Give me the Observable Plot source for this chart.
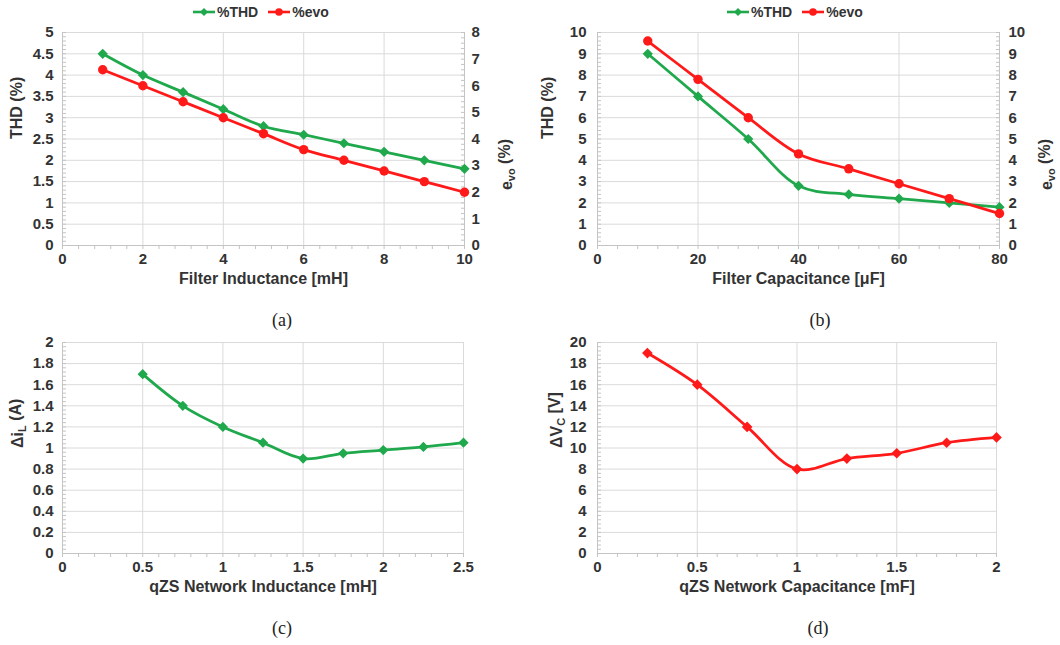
<!DOCTYPE html>
<html><head><meta charset="utf-8">
<script src="https://cdn.jsdelivr.net/npm/d3@7"></script>
<script src="https://cdn.jsdelivr.net/npm/@observablehq/plot@0.6"></script>
<style>
body{margin:0;background:#fff;}
#root{position:relative;width:1060px;height:645px;overflow:hidden;font-family:"Liberation Sans",Arial,sans-serif;}
.panel{position:absolute;}
.cap{position:absolute;font-family:"Liberation Serif","Times New Roman",serif;font-size:18px;color:#222;transform:translate(-50%,-50%);}
.legend{position:absolute;display:flex;align-items:center;gap:9px;font-weight:bold;font-size:14px;color:#333;transform:translateY(-50%);}
.legend .item{display:flex;align-items:center;gap:1px;}
</style></head><body><div id="root"></div>
<script>
// ---- data ----
const inductance = [1, 2, 3, 4, 5, 6, 7, 8, 9, 10];
const thdA = [4.5, 4.0, 3.6, 3.2, 2.8, 2.6, 2.4, 2.2, 2.0, 1.8];
const evoA = [6.6, 6.0, 5.4, 4.8, 4.2, 3.6, 3.2, 2.8, 2.4, 2.0];

const capacitance = [10, 20, 30, 40, 50, 60, 70, 80];
const thdB = [9, 7, 5, 2.8, 2.4, 2.2, 2.0, 1.8];
const evoB = [9.6, 7.8, 6.0, 4.3, 3.6, 2.9, 2.2, 1.5];

const qzsInductance = [0.5, 0.75, 1, 1.25, 1.5, 1.75, 2, 2.25, 2.5];
const deltaIL = [1.7, 1.4, 1.2, 1.05, 0.9, 0.95, 0.98, 1.01, 1.05];

const qzsCapacitance = [0.25, 0.5, 0.75, 1, 1.25, 1.5, 1.75, 2];
const deltaVC = [19, 16, 12, 8, 9, 9.5, 10.5, 11];

// tick labels
const xTicksA = [0, 2, 4, 6, 8, 10];
const yTicksA = [0, 0.5, 1, 1.5, 2, 2.5, 3, 3.5, 4, 4.5, 5];
const rightTicksA = [0, 1, 2, 3, 4, 5, 6, 7, 8];
const xTicksB = [0, 20, 40, 60, 80];
const yTicksB = [0, 1, 2, 3, 4, 5, 6, 7, 8, 9, 10];
const rightTicksB = [0, 1, 2, 3, 4, 5, 6, 7, 8, 9, 10];
const xTicksC = [0, 0.5, 1, 1.5, 2, 2.5];
const yTicksC = [0, 0.2, 0.4, 0.6, 0.8, 1, 1.2, 1.4, 1.6, 1.8, 2];
const xTicksD = [0, 0.5, 1, 1.5, 2];
const yTicksD = [0, 2, 4, 6, 8, 10, 12, 14, 16, 18, 20];

const GREEN = "#1fa84c", RED = "#ff1a1a";
const GRID = "#dadada", AXIS = "#c4c4c4", TXT = "#333333";
const fmt = d => String(+(+d).toFixed(3));

function minor(ticks, n) {
  const step = (ticks[1] - ticks[0]) / n;
  const out = [];
  for (let v = ticks[0]; v <= ticks[ticks.length - 1] + step * 1e-6; v += step) out.push(+v.toFixed(6));
  return out;
}

function subscripts(svg) {
  svg.querySelectorAll("text").forEach(t => {
    const s = t.textContent;
    if (!s.includes("_{")) return;
    const parts = s.split(/_\{([^}]*)\}/);
    t.textContent = "";
    parts.forEach((p, i) => {
      if (!p) return;
      const ts = document.createElementNS("http://www.w3.org/2000/svg", "tspan");
      ts.textContent = p;
      if (i % 2 === 1) { ts.setAttribute("dy", "0.3em"); ts.setAttribute("font-size", "11"); }
      else if (i > 0) { ts.setAttribute("dy", "-0.3em"); }
      t.appendChild(ts);
    });
  });
}

function panel(cfg) {
  const {left, top, width, height, m, xDomain, xTicks, yDomain, yTicks, series, xLabel, yLabel, yTitleDx, right} = cfg;
  const marks = [
    Plot.gridX(xTicks, {stroke: GRID, strokeOpacity: 1}),
    Plot.gridY(yTicks, {stroke: GRID, strokeOpacity: 1}),
    Plot.ruleX([xDomain[0]], {stroke: AXIS}),
    Plot.ruleY([yDomain[0]], {stroke: AXIS}),
    Plot.axisY(minor(yTicks, 5), {anchor: "left", tickSize: -4, fill: "none", stroke: AXIS}),
    Plot.axisX(minor(xTicks, 5), {anchor: "bottom", tickSize: 4, fill: "none", stroke: AXIS}),
    Plot.axisX(xTicks, {anchor: "bottom", tickSize: 0, tickPadding: 8, label: null, fill: TXT, tickFormat: fmt}),
    Plot.axisY(yTicks, {anchor: "left", tickSize: 0, tickPadding: cfg.leftPad, label: null, fill: TXT, tickFormat: fmt}),
    Plot.text([xLabel], {text: d => d, frameAnchor: "bottom", dy: 38, fontSize: 16, fill: TXT}),
    Plot.text([yLabel], {text: d => d, frameAnchor: "left", dx: yTitleDx, rotate: -90, fontSize: 16, fill: TXT})
  ];
  if (right) {
    const k = right.k;
    const rt = right.ticks.map(v => v * k);
    marks.push(
      Plot.ruleX([xDomain[1]], {stroke: AXIS}),
      Plot.axisY(minor(rt, 5), {anchor: "right", tickSize: -4, fill: "none", stroke: AXIS}),
      Plot.axisY(rt, {anchor: "right", tickSize: 0, tickPadding: right.pad, label: null, fill: TXT, tickFormat: d => fmt(d / k)}),
      Plot.text([right.label], {text: d => d, frameAnchor: "right", dx: right.dx, rotate: -90, fontSize: 16, fill: TXT})
    );
  }
  for (const s of series) {
    const data = s.x.map((v, i) => ({x: v, y: s.y[i] * (s.k || 1)}));
    marks.push(
      Plot.line(data, {x: "x", y: "y", stroke: s.color, strokeWidth: 2.8, curve: "catmull-rom"}),
      Plot.dot(data, {x: "x", y: "y", fill: s.color, stroke: "none", symbol: s.symbol, r: s.r})
    );
  }
  const svg = Plot.plot({
    width, height,
    marginLeft: m[0], marginRight: m[1], marginTop: m[2], marginBottom: m[3],
    x: {domain: xDomain},
    y: {domain: yDomain},
    style: {fontFamily: '"Liberation Sans", Arial, sans-serif', fontSize: "15px", fontWeight: "bold", color: TXT, background: "transparent", overflow: "visible"},
    marks
  });
  subscripts(svg);
  const div = document.createElement("div");
  div.className = "panel";
  div.style.left = left + "px";
  div.style.top = top + "px";
  div.appendChild(svg);
  document.getElementById("root").appendChild(div);
}

panel({
  left: 0, top: 20, width: 530, height: 285, m: [62, 66, 12, 60],
  xDomain: [0, 10], xTicks: xTicksA, yDomain: [0, 5], yTicks: yTicksA, leftPad: 9,
  xLabel: "Filter Inductance [mH]", yLabel: "THD (%)", yTitleDx: -46,
  right: {k: 5 / 8, ticks: rightTicksA, pad: 7, dx: 42, label: "e_{vo} (%)"},
  series: [
    {x: inductance, y: thdA, color: GREEN, symbol: "diamond2", r: 4.6},
    {x: inductance, y: evoA, k: 5 / 8, color: RED, symbol: "circle", r: 4.7}
  ]
});
panel({
  left: 530, top: 20, width: 530, height: 285, m: [67, 61, 12, 60],
  xDomain: [0, 80], xTicks: xTicksB, yDomain: [0, 10], yTicks: yTicksB, leftPad: 11,
  xLabel: "Filter Capacitance [μF]", yLabel: "THD (%)", yTitleDx: -50,
  right: {k: 1, ticks: rightTicksB, pad: 9, dx: 47, label: "e_{vo} (%)"},
  series: [
    {x: capacitance, y: thdB, color: GREEN, symbol: "diamond2", r: 4.6},
    {x: capacitance, y: evoB, color: RED, symbol: "circle", r: 4.7}
  ]
});
panel({
  left: 0, top: 330, width: 530, height: 285, m: [62, 67, 12, 62],
  xDomain: [0, 2.5], xTicks: xTicksC, yDomain: [0, 2], yTicks: yTicksC, leftPad: 9,
  xLabel: "qZS Network Inductance [mH]", yLabel: "Δi_{L} (A)", yTitleDx: -45,
  series: [
    {x: qzsInductance, y: deltaIL, color: GREEN, symbol: "diamond2", r: 4.6}
  ]
});
panel({
  left: 530, top: 330, width: 530, height: 285, m: [67, 64, 12, 62],
  xDomain: [0, 2], xTicks: xTicksD, yDomain: [0, 20], yTicks: yTicksD, leftPad: 11,
  xLabel: "qZS Network Capacitance [mF]", yLabel: "ΔV_{C} [V]", yTitleDx: -41,
  series: [
    {x: qzsCapacitance, y: deltaVC, color: RED, symbol: "diamond2", r: 4.8}
  ]
});

// legends
function legend(left, top) {
  const d = document.createElement("div");
  d.className = "legend";
  d.style.left = left + "px";
  d.style.top = top + "px";
  const items = [
    {label: "%THD", color: GREEN, marker: `<path d="M12,3 L16,7 L12,11 L8,7 Z" fill="${GREEN}"/>`},
    {label: "%evo", color: RED, marker: `<circle cx="12" cy="7" r="3.8" fill="${RED}"/>`}
  ];
  for (const it of items) {
    const s = document.createElement("span");
    s.className = "item";
    s.innerHTML = `<svg width="24" height="14"><line x1="1" x2="23" y1="7" y2="7" stroke="${it.color}" stroke-width="2.6"/>${it.marker}</svg>${it.label}`;
    d.appendChild(s);
  }
  document.getElementById("root").appendChild(d);
}
legend(192, 12);
legend(726, 12);

// captions
[["(a)", 282, 320], ["(b)", 820, 320], ["(c)", 282, 628], ["(d)", 818, 628]].forEach(([t, x, y]) => {
  const c = document.createElement("div");
  c.className = "cap";
  c.textContent = t;
  c.style.left = x + "px";
  c.style.top = y + "px";
  document.getElementById("root").appendChild(c);
});
</script></body></html>
